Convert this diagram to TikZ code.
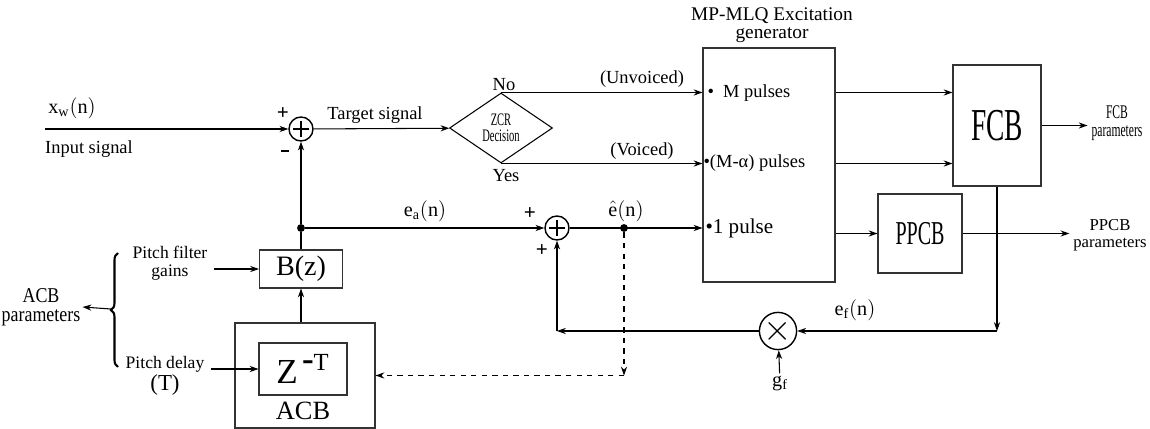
\documentclass[tikz,border=0pt]{standalone}
\usepackage{fontspec}
\setmainfont{Liberation Serif}
\newfontfamily\narrowfont[FakeStretch=0.6]{Liberation Serif}
\newfontfamily\semifont[FakeStretch=0.85]{Liberation Serif}
\usetikzlibrary{arrows.meta,shapes.geometric,decorations.pathreplacing}

\begin{document}
\begin{tikzpicture}[
  x=0.02cm, y=-0.02cm,
  font=\fontsize{10.5}{11}\selectfont,
  >={Stealth[length=5pt,width=3.5pt]},
  line width=0.6pt,
  box/.style={draw=black!80, inner sep=0pt},
  ring/.style={circle, draw, line width=0.8pt, minimum size=0.48cm, inner sep=0pt},
  sum/.style={
    ring,
    path picture={
      \draw[line width=1.4pt]
        ([xshift=-4.6pt]path picture bounding box.center) -- ++(9.2pt,0)
        ([yshift=-4.6pt]path picture bounding box.center) -- ++(0,9.2pt);
    }
  },
  sign/.style={font=\fontsize{12}{12}\selectfont\bfseries},
  dot/.style={circle, fill, inner sep=0pt, minimum size=4.5pt},
  sig/.style={font=\fontsize{11.5}{12}\selectfont},
  twoline/.style={align=center, font=\fontsize{#1}{#1}\selectfont}
]
\useasboundingbox (0,0) rectangle (1150,429);

% ── Input side and first summer ─────────────────────────────────────────────
\coordinate (xin) at (45,129);
\node[sum] (sum1) at (301,129) {};
\node[sig] at (72,108) {$\mathrm{x}_{\mathrm{w}}(\mathrm{n})$};
\node at (89,149) {Input signal};
\node[sign] at (283,114) {+};
\node[sign] at (285,151) {\rule{4.5pt}{1.6pt}};
\node at (375,115) {Target signal};

% ── ZCR decision ────────────────────────────────────────────────────────────
\node[diamond, draw, minimum width=2.06cm, minimum height=1.4cm, inner sep=0pt,
  align=center, font=\narrowfont\fontsize{10}{9}\selectfont]
  (zcr) at (501,128) {ZCR\\Decision};
\node at (504,85) {No};
\node at (506,176) {Yes};
\node at (642,79) {(Unvoiced)};
\node at (642,151) {(Voiced)};

% ── MP-MLQ excitation generator ─────────────────────────────────────────────
\node[box, minimum width=2.64cm, minimum height=4.68cm] (gen) at (769,165) {};
\node[twoline=10] at (772,25) {{\fontsize{11}{11}\selectfont MP-MLQ Excitation}\\{\fontsize{11}{11}\selectfont generator}};
\node[anchor=west, inner sep=0pt] at (707,93) {\textbullet\enspace M pulses};
\node[anchor=west, inner sep=0pt] at (703,163) {\textbullet(M-α) pulses};
\node[anchor=west, inner sep=0pt, font=\fontsize{12}{12}\selectfont] at (705,228) {\textbullet1 pulse};

% ── Codebooks ───────────────────────────────────────────────────────────────
\node[box, minimum width=1.76cm, minimum height=2.42cm,
  font=\narrowfont\fontsize{26}{26}\selectfont] (fcb) at (997,125.5) {FCB};
\node[box, minimum width=1.68cm, minimum height=1.58cm,
  font=\narrowfont\fontsize{19}{19}\selectfont] (ppcb) at (920,233.5) {PPCB};
\node[align=center, inner sep=2pt, font=\narrowfont\fontsize{11}{10}\selectfont]
  (fcbpar) at (1117,123) {FCB\\parameters};
\node[twoline=9.5, inner sep=2pt] (ppcbpar) at (1110,235) {PPCB\\parameters};

% ── Pitch predictor: B(z) and ACB ───────────────────────────────────────────
\node[box, minimum width=1.66cm, minimum height=0.76cm,
  font=\fontsize{16}{16}\selectfont] (bz) at (301,269) {B(z)};
\node[box, minimum width=2.8cm, minimum height=2.1cm] (acb) at (305,375.5) {};
\node[box, minimum width=1.76cm, minimum height=1.04cm,
  font=\fontsize{20}{20}\selectfont] (delay) at (303,369) {Z$^{\,\textbf{-}\mathrm{T}}$};
\node[font=\fontsize{15}{15}\selectfont] at (303,411) {ACB};
\node[twoline=10] (pfg) at (170,263) {Pitch filter\\gains};
\node[twoline=10] (pd) at (165,376) {Pitch delay\\{\fontsize{13}{13}\selectfont(T)}};
\node[align=center, inner sep=1pt, font=\semifont\fontsize{12}{11}\selectfont]
  (acbpar) at (41,307) {ACB\\parameters};
\coordinate (brtip) at (111,309);

% ── Second summer, multiplier and taps ──────────────────────────────────────
\node[dot] (ja) at (301,228) {};
\node[sum] (sum2) at (557,228) {};
\node[sign] at (530,214) {+};
\node[sign] at (542,251) {+};
\node[dot] (eh) at (624,228) {};
\node[ring, font=\fontsize{22}{22}\selectfont] (mult) at (778,331) {$\times$};
\node[sig, inner sep=1pt] (gf) at (780,383) {$\mathrm{g}_{\mathrm{f}}$};
\node[sig] at (425,211) {$\mathrm{e}_{\mathrm{a}}(\mathrm{n})$};
\node[sig] at (626,211) {$\hat{\mathrm{e}}(\mathrm{n})$};
\node[sig] at (855,310) {$\mathrm{e}_{\mathrm{f}}(\mathrm{n})$};

% ── Arrows: forward path ────────────────────────────────────────────────────
\draw[->] (xin) -- (sum1);
\draw[->] (sum1) -- (zcr);
\draw[->] (zcr.north) -- (zcr.north -| gen.west);
\draw[->] (zcr.south) -- (zcr.south -| gen.west);
\draw[->] (zcr.north -| gen.east) -- (zcr.north -| fcb.west);
\draw[->] (zcr.south -| gen.east) -- (zcr.south -| fcb.west);
\draw[->] (ppcb.west -| gen.east) -- (ppcb.west);
\draw[->] (fcb.east) -- (fcb.east -| fcbpar.west);
\draw[->] (ppcb.east) -- (ppcb.east -| ppcbpar.west);

% ── Arrows: pitch loop ──────────────────────────────────────────────────────
\draw[->] (pfg.east |- bz) -- (bz);
\draw[->] (pd.east |- delay) -- (delay);
\draw[->] (bz |- acb.north) -- (bz.south);
\draw (bz) -- (ja);
\draw[->] (ja) -- (sum1);
\draw[->] (ja) -- (sum2);
\draw[->] (sum2) -- (sum2 -| gen.west);
\draw[dashed,->] (eh) -- (eh |- acb.east);
\draw[dashed,->] (eh |- acb.east) -- (acb.east);
\draw[decorate, decoration={brace, amplitude=4pt}, line width=1.2pt] (118,367) -- (118,253);
\draw[->] (brtip) -- (acbpar.east);

% ── Arrows: fixed codebook feedback ─────────────────────────────────────────
\draw[->] (fcb.south) -- (fcb.south |- mult);
\draw[->] (fcb.south |- mult) -- (mult);
\draw[->] (gf) -- (mult);
\draw[->] (mult) -- (sum2 |- mult);
\draw[->] (sum2 |- mult) -- (sum2);

\end{tikzpicture}
\end{document}
